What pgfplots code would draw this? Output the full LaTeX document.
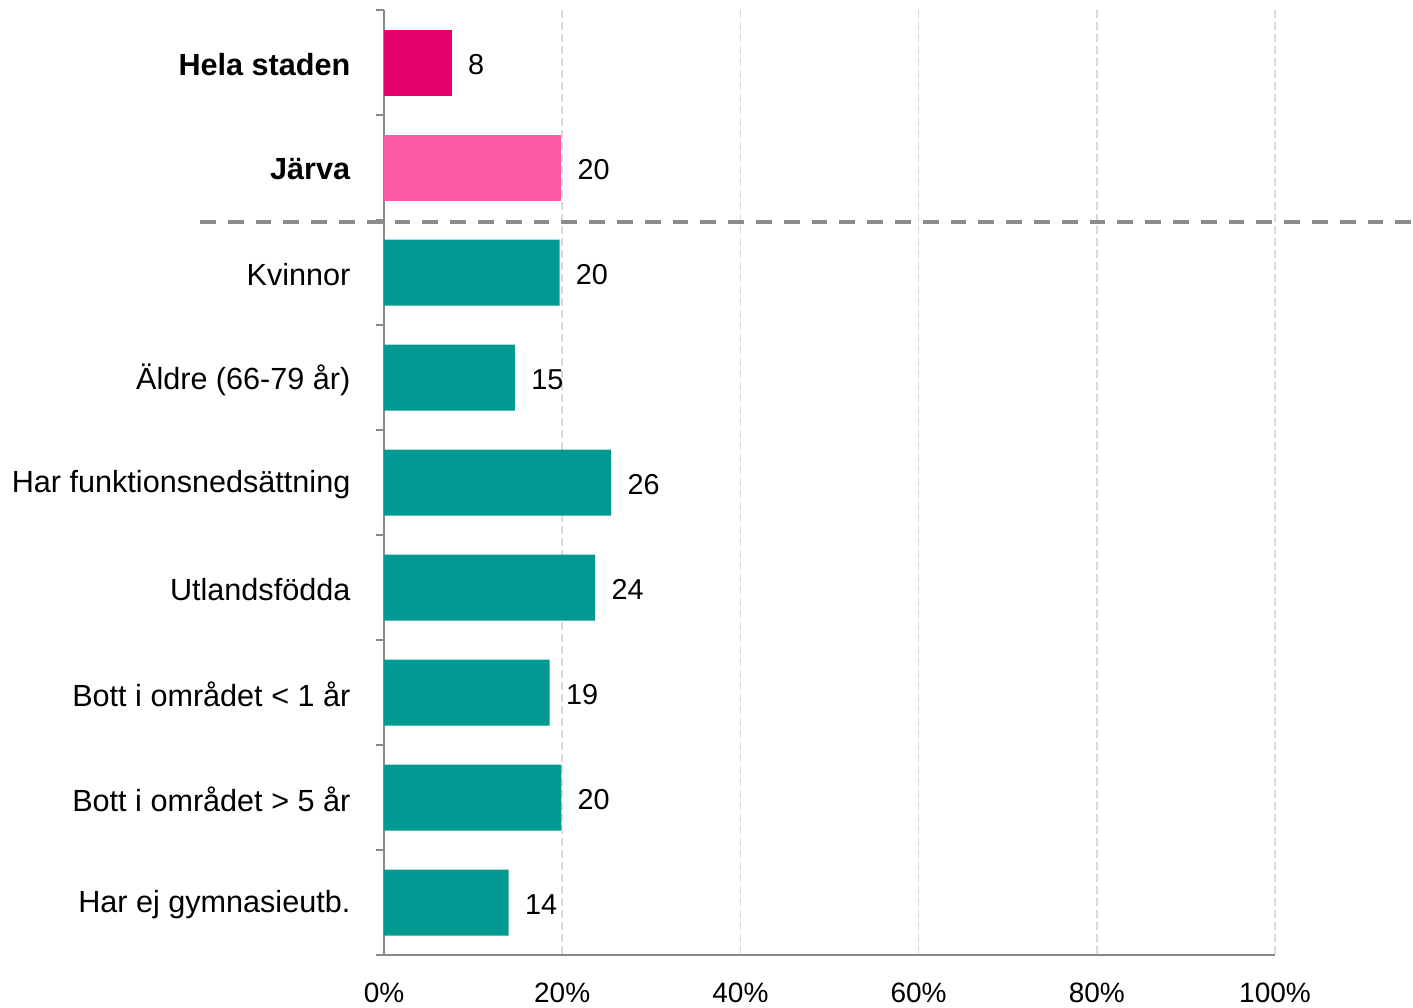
\documentclass[border=0pt]{standalone}
\usepackage{fontspec}
\setmainfont{Liberation Sans}
\usepackage{pgfplots}
\pgfplotsset{compat=1.18}
\definecolor{magenta1}{HTML}{E5006B}
\definecolor{pink1}{HTML}{FF5AA5}
\definecolor{teal1}{HTML}{009A93}
\definecolor{axgray}{HTML}{898989}
\definecolor{gridgray}{HTML}{D9D9D9}
\definecolor{sepgray}{HTML}{8C8C8C}
\begin{document}
\begin{tikzpicture}
\useasboundingbox (-192pt,-26pt) rectangle (514.5pt,477.5pt);
\begin{axis}[
  at={(0,0)}, anchor=south west,
  scale only axis, width=445.5pt, height=472.5pt,
  xmin=0, xmax=100, ymin=-0.5, ymax=8.5,
  y dir=reverse,
  clip=false,
  axis lines*=left,
  axis line style={draw=axgray, line width=1pt},
  xtick={0,20,40,60,80,100},
  xticklabels={0\%,20\%,40\%,60\%,80\%,100\%},
  xmajorgrids,
  major grid style={draw=gridgray, line width=0.8pt, dash pattern=on 4pt off 2pt},
  x tick style={draw=none},
  ytick={0,...,8},
  yticklabels={\textbf{Hela staden},\textbf{Järva},Kvinnor,Äldre (66-79 år),Har funktionsnedsättning,Utlandsfödda,Bott i området < 1 år,Bott i området > 5 år,Har ej gymnasieutb.},
  y tick style={draw=none},
  minor ytick={-0.5,0.5,...,8.5},
  minor y tick style={draw=axgray, line width=1pt},
  minor tick length=4pt,
  tick align=outside,
  xticklabel style={font=\fontsize{14}{16}\selectfont, text=black, yshift=-6pt},
  yticklabel style={font=\fontsize{15.3}{18}\selectfont, text=black, xshift=-9pt, yshift=-1pt},
  xbar, bar width=33pt, bar shift=0pt,
  nodes near coords={\pgfmathprintnumber[fixed,precision=0,assume math mode=true]{\pgfplotspointmeta}},
  point meta=explicit,
  every node near coord/.append style={font=\fontsize{14.4}{16}\selectfont, text=black, anchor=west, inner sep=0pt, xshift=8pt, yshift=-1pt},
]
\addplot[fill=magenta1, draw=none] coordinates {(7.6,0) [8]};
\addplot[fill=pink1, draw=none] coordinates {(19.9,1) [20]};
\addplot[fill=teal1, draw=none] coordinates {
(19.7,2) [20]
(14.7,3) [15]
(25.5,4) [26]
(23.7,5) [24]
(18.6,6) [19]
(19.9,7) [20]
(14.0,8) [14]
};
\draw[draw=sepgray, line width=2pt, dash pattern=on 7.9pt off 6pt] (axis cs:-20.65,1.52) -- (axis cs:117.4,1.52);
\end{axis}
\end{tikzpicture}
\end{document}
